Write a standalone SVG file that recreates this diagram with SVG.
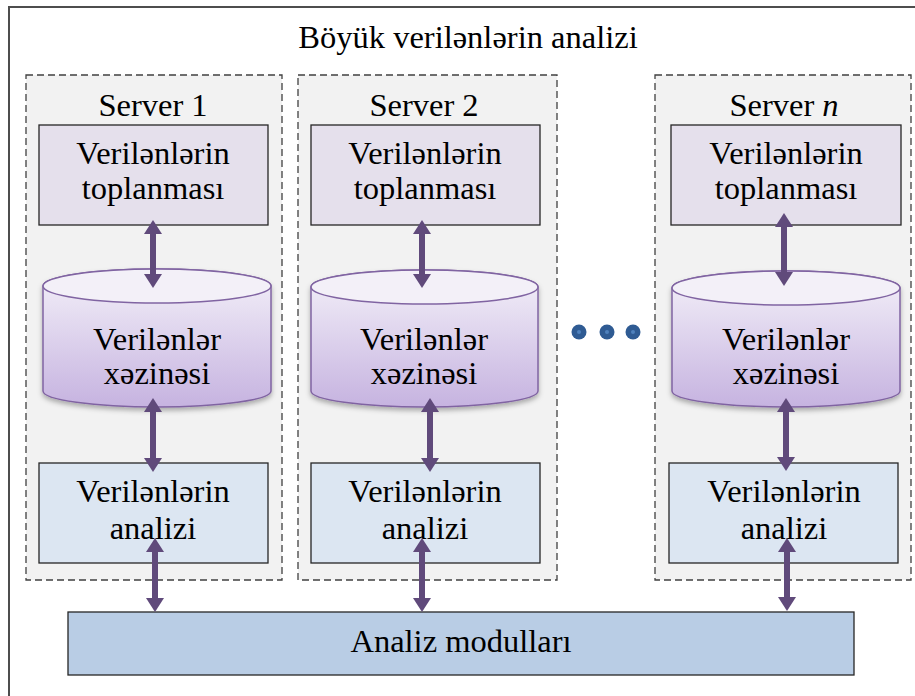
<svg xmlns="http://www.w3.org/2000/svg" width="915" height="696" viewBox="0 0 915 696">
<defs>
<style>
text{font-family:"Liberation Serif","Times New Roman",serif;font-size:32.5px;fill:#000;text-anchor:middle}
.frame{fill:#fff;stroke:#4d4d4d;stroke-width:2}
.server{fill:#f2f2f2;stroke:#404040;stroke-width:1.3;stroke-dasharray:7 4}
.top{fill:#e5e0ec;stroke:#262626;stroke-width:1.3}
.ana{fill:#dce6f2;stroke:#262626;stroke-width:1.3}
.mod{fill:#b9cde5;stroke:#262626;stroke-width:1.3}
.cyl{fill:url(#cylg);stroke:#8064a2;stroke-width:1.5;filter:url(#sh)}
.cyltop{fill:#f3f0f8;stroke:#8064a2;stroke-width:1.5}
.arr{stroke:#604a7b;stroke-width:6;fill:none;marker-start:url(#ah);marker-end:url(#ah)}
.dot{fill:#2f5b93}
.dotc{fill:#4f81bd}
</style>
<linearGradient id="cylg" x1="0" y1="0" x2="0" y2="1">
<stop offset="0" stop-color="#f4f1f9"/>
<stop offset="1" stop-color="#c6b3e0"/>
</linearGradient>
<filter id="sh" x="-10%" y="-10%" width="120%" height="130%">
<feDropShadow dx="0" dy="3" stdDeviation="2.5" flood-color="#000" flood-opacity="0.3"/>
</filter>
<marker id="ah" markerUnits="userSpaceOnUse" viewBox="0 0 14 18" refX="0" refY="9" markerWidth="14" markerHeight="18" orient="auto-start-reverse">
<path d="M0,0 L14,9 L0,18 Z" fill="#604a7b"/>
</marker>
</defs>
<rect class="frame" x="9" y="7" width="1000" height="800"/>
<text id="title" x="468" y="48">Böyük verilənlərin analizi</text>

<g id="server1">
<rect class="server" x="26" y="75" width="256" height="505"/>
<text x="153" y="116">Server 1</text>
</g>
<g id="server2">
<rect class="server" x="298" y="75" width="259" height="505"/>
<text x="424" y="116">Server 2</text>
</g>
<g id="servern">
<rect class="server" x="655" y="75" width="256" height="505"/>
<text x="784" y="116">Server <tspan font-style="italic">n</tspan></text>
</g>

<g id="collect1">
<rect class="top" x="39" y="125" width="229" height="100"/>
<text x="153" y="164">Verilənlərin</text>
<text x="153" y="199">toplanması</text>
</g>
<g id="collect2">
<rect class="top" x="311" y="125" width="229" height="100"/>
<text x="425" y="164">Verilənlərin</text>
<text x="425" y="199">toplanması</text>
</g>
<g id="collectn">
<rect class="top" x="671" y="125" width="230" height="100"/>
<text x="786" y="164">Verilənlərin</text>
<text x="786" y="199">toplanması</text>
</g>

<g id="store1">
<path class="cyl" d="M43,286 A114,17 0 0 1 271,286 L271,391 A114,16 0 0 1 43,391 Z"/>
<ellipse class="cyltop" cx="157" cy="286" rx="114" ry="17"/>
<text x="157" y="350">Verilənlər</text>
<text x="157" y="384">xəzinəsi</text>
</g>
<g id="store2">
<path class="cyl" d="M311,287 A113.5,17 0 0 1 538,287 L538,391 A113.5,16 0 0 1 311,391 Z"/>
<ellipse class="cyltop" cx="424.5" cy="287" rx="113.5" ry="17"/>
<text x="424" y="350">Verilənlər</text>
<text x="424" y="384">xəzinəsi</text>
</g>
<g id="storen">
<path class="cyl" d="M672,288 A114,17 0 0 1 900,288 L900,391 A114,16 0 0 1 672,391 Z"/>
<ellipse class="cyltop" cx="786" cy="288" rx="114" ry="17"/>
<text x="786" y="350">Verilənlər</text>
<text x="786" y="384">xəzinəsi</text>
</g>

<g id="analysis1">
<rect class="ana" x="39" y="463" width="229" height="100"/>
<text x="153" y="502">Verilənlərin</text>
<text x="153" y="539">analizi</text>
</g>
<g id="analysis2">
<rect class="ana" x="311" y="463" width="229" height="100"/>
<text x="425" y="502">Verilənlərin</text>
<text x="425" y="539">analizi</text>
</g>
<g id="analysisn">
<rect class="ana" x="669" y="463" width="229" height="100"/>
<text x="784" y="502">Verilənlərin</text>
<text x="784" y="539">analizi</text>
</g>

<g id="modules">
<rect class="mod" x="68" y="612" width="786" height="63"/>
<text x="461" y="652">Analiz modulları</text>
</g>

<g id="dots">
<circle class="dot" cx="579" cy="332" r="7.5"/><circle class="dotc" cx="579" cy="332" r="2"/>
<circle class="dot" cx="607" cy="332" r="7.5"/><circle class="dotc" cx="607" cy="332" r="2"/>
<circle class="dot" cx="633" cy="332" r="7.5"/><circle class="dotc" cx="633" cy="332" r="2"/>
</g>

<g id="connectors">
<line class="arr" x1="153" y1="234" x2="153" y2="274"/>
<line class="arr" x1="153" y1="412" x2="153" y2="458"/>
<line class="arr" x1="155" y1="552" x2="155" y2="598"/>
<line class="arr" x1="422" y1="234" x2="422" y2="274"/>
<line class="arr" x1="430" y1="412" x2="430" y2="458"/>
<line class="arr" x1="422" y1="552" x2="422" y2="598"/>
<line class="arr" x1="784" y1="227" x2="784" y2="272"/>
<line class="arr" x1="786" y1="412" x2="786" y2="457"/>
<line class="arr" x1="787" y1="552" x2="787" y2="597"/>
</g>
</svg>
